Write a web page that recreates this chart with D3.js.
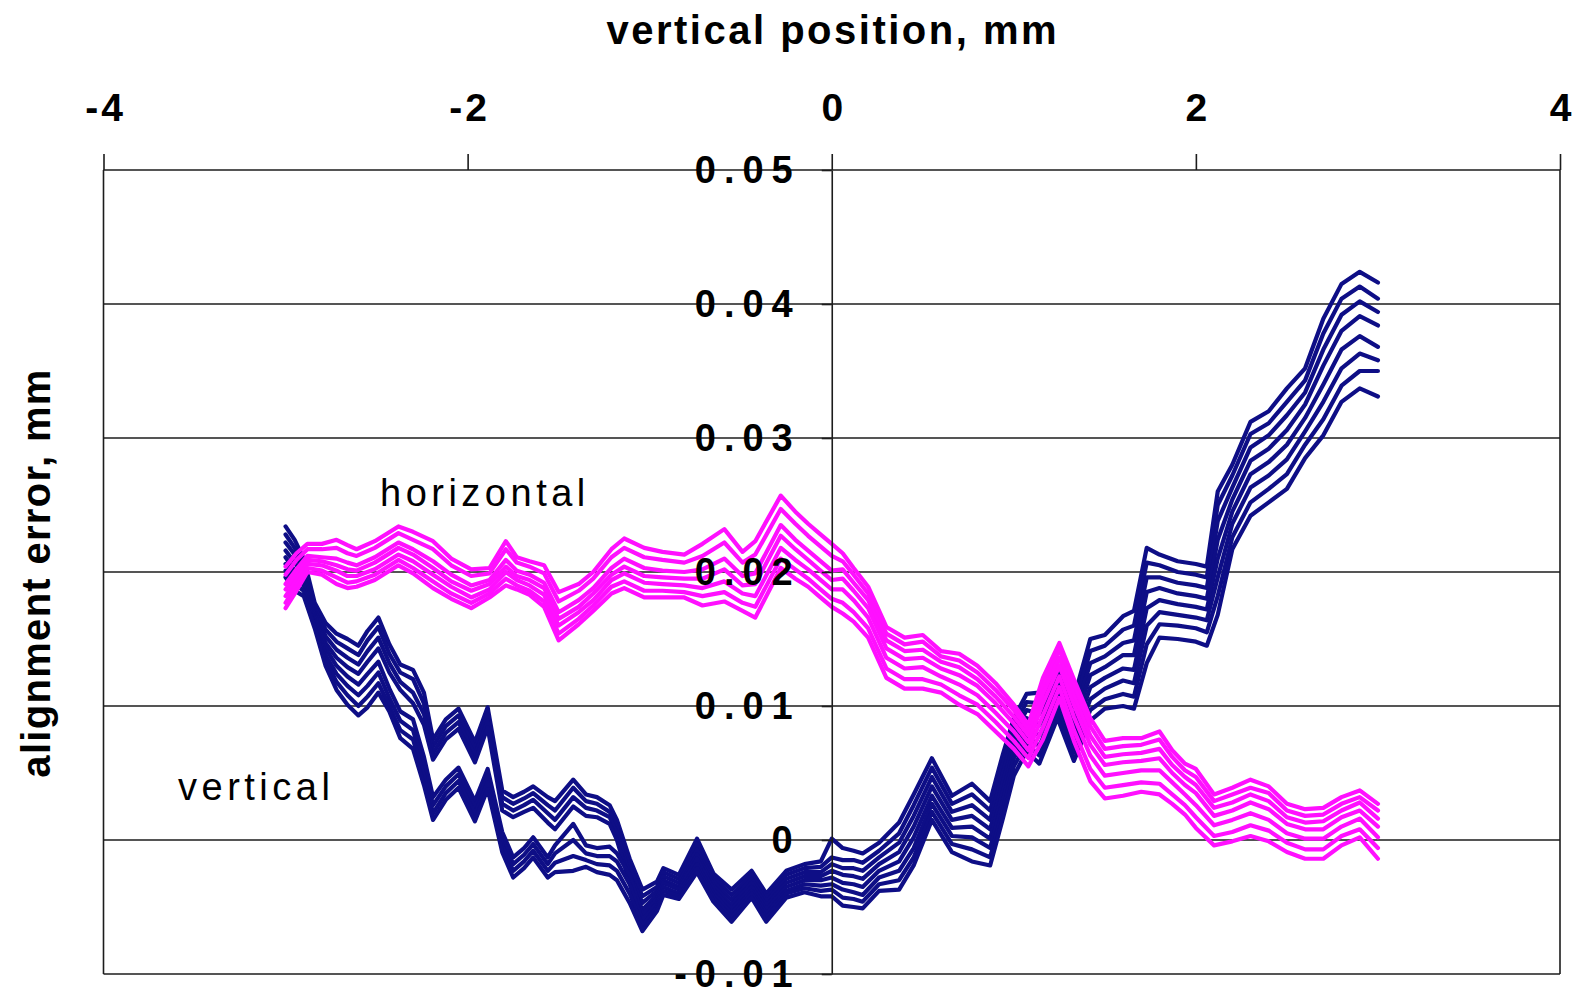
<!DOCTYPE html>
<html>
<head>
<meta charset="utf-8">
<script src="https://cdn.jsdelivr.net/npm/d3@7"></script>
<style>
  html, body { margin: 0; padding: 0; background: #fff; }
  svg { display: block; }
  text { font-family: "Liberation Sans", Arial, Helvetica, sans-serif; fill: #000; }
</style>
</head>
<body>
<svg id="chart" width="1575" height="994"></svg>
<script>
// Axis ticks and labels
const xTicks = [-4, -2, 0, 2, 4];
const xTickLabels = ["-4", "-2", "0", "2", "4"];
const yTicks = [-0.01, 0, 0.01, 0.02, 0.03, 0.04, 0.05];
const yTickLabels = ["-0.01", "0", "0.01", "0.02", "0.03", "0.04", "0.05"];

// Scan positions (mm) for the vertical-error runs
const verticalPos = [-3.00,-2.95,-2.90,-2.84,-2.78,-2.72,-2.66,-2.60,-2.55,-2.49,-2.43,-2.37,-2.30,-2.24,-2.19,-2.12,-2.05,-1.96,-1.89,-1.81,-1.75,-1.69,-1.64,-1.56,-1.52,-1.42,-1.35,-1.29,-1.22,-1.18,-1.11,-1.04,-0.96,-0.925,-0.84,-0.74,-0.65,-0.55,-0.44,-0.36,-0.25,-0.15,-0.06,0.00,0.06,0.12,0.17,0.26,0.37,0.45,0.55,0.66,0.77,0.87,0.94,1.00,1.07,1.14,1.24,1.33,1.42,1.50,1.60,1.66,1.73,1.80,1.90,2.00,2.06,2.12,2.20,2.30,2.40,2.50,2.60,2.70,2.80,2.90,3.00];

// Vertical alignment error, one array per run (micrometres)
const verticalRun1 = [23.4,22.4,21.0,17.7,16.2,15.4,15.0,14.5,15.6,16.6, 14.6,13.1,12.7,11.0,7.5,9.0,9.8,7.3,9.9,3.7, 3.2,3.6,4.0,3.2,2.9,4.5,3.4,3.2,2.6,1.5, -1.4,-3.7,-3.1,-2.1,-2.6,0.1,-2.5,-3.7,-2.3,-4.0, -2.3,-1.8,-1.6,0.1,-0.6,-0.8,-1.0,-0.2,1.3,3.4, 6.1,3.3,4.2,2.9,6.4,9.1,10.9,11.0,13.1,10.6, 15.0,15.3,16.7,17.1,21.8,21.3,20.8,20.6,20.4,26.0, 28.0,31.2,32.0,33.7,35.2,38.9,41.5,42.4,41.6];
const verticalRun2 = [22.8,21.8,20.6,17.4,15.7,14.8,14.3,13.8,14.9,15.9, 13.9,12.5,12.0,10.2,7.0,8.5,9.3,6.8,9.4,3.2, 2.7,3.1,3.5,2.6,2.2,3.9,2.9,2.7,2.1,1.0, -2.0,-4.2,-3.5,-2.4,-2.9,-0.3,-2.8,-4.1,-2.6,-4.3, -2.6,-2.1,-2.0,-1.3,-1.5,-1.5,-1.7,-0.8,0.5,2.6, 5.4,2.7,3.4,2.2,5.7,8.5,10.3,10.2,12.5,9.9, 14.1,14.5,15.7,16.0,20.7,20.5,20.0,19.8,19.6,25.0, 27.2,30.3,31.1,32.7,34.3,37.8,40.4,41.3,40.4];
const verticalRun3 = [22.2,21.3,20.2,17.1,15.2,14.2,13.6,13.1,14.1,15.1, 13.2,11.8,11.0,9.4,6.5,8.0,8.8,6.3,8.9,2.7, 2.2,2.6,3.0,2.0,1.5,3.2,2.4,2.2,1.7,0.5, -2.6,-4.7,-3.8,-2.7,-3.2,-0.7,-3.1,-4.5,-2.9,-4.6, -2.9,-2.4,-2.4,-1.8,-2.1,-2.1,-2.3,-1.3,-0.2,1.8, 4.7,2.1,2.6,1.5,5.0,7.9,9.7,9.4,11.9,9.2, 13.2,13.7,14.7,14.9,19.6,19.6,19.2,19.0,18.8,23.8, 26.3,29.3,30.2,31.7,33.4,36.6,39.2,40.2,39.4];
const verticalRun4 = [21.6,20.7,19.8,16.8,14.7,13.6,12.9,12.4,13.3,14.3, 12.5,11.2,10.2,8.6,6.0,7.5,8.3,5.8,8.4,2.2, 1.7,2.1,2.4,1.3,0.8,2.5,1.8,1.7,1.2,0.0, -3.2,-5.2,-4.1,-3.0,-3.5,-1.1,-3.4,-4.9,-3.2,-4.9, -3.2,-2.7,-2.7,-2.3,-2.6,-2.7,-2.9,-1.8,-0.9,1.0, 4.0,1.5,1.8,0.8,4.3,7.3,9.1,8.6,11.3,8.5, 12.3,12.9,13.8,13.8,18.5,18.8,18.4,18.2,18.0,22.4, 25.4,28.3,29.2,30.6,32.5,35.4,38.0,39.1,38.4];
const verticalRun5 = [21.1,20.1,19.4,16.6,14.3,13.0,12.2,11.6,12.4,13.3, 11.3,9.6,9.0,6.2,3.2,4.5,5.4,2.9,5.3,0.6, -1.3,-0.6,0.2,-1.3,-0.4,1.2,-0.4,-0.6,-0.5,-1.0, -2.6,-5.6,-4.4,-3.2,-3.7,-1.4,-3.7,-5.2,-3.5,-5.2, -3.5,-3.0,-3.0,-2.8,-3.2,-3.3,-3.5,-2.3,-1.6,0.2, 3.3,0.9,1.0,0.1,3.6,6.7,8.4,7.8,10.7,7.8, 11.4,12.1,12.8,12.7,17.3,17.9,17.6,17.4,17.2,21.0, 24.5,27.3,28.2,29.5,31.5,34.0,36.6,37.6,36.8];
const verticalRun6 = [20.6,19.6,19.0,16.3,13.8,12.4,11.5,10.8,11.5,12.5, 10.6,8.9,8.2,5.5,2.6,4.0,4.9,2.4,4.8,0.1, -1.8,-1.1,-0.3,-1.8,-1.0,0.0,-1.0,-1.2,-1.2,-1.6, -3.3,-6.0,-4.7,-3.5,-4.0,-1.8,-4.0,-5.5,-3.8,-5.5, -3.8,-3.3,-3.4,-3.3,-3.7,-3.9,-4.1,-2.8,-2.3,-0.6, 2.7,0.3,0.2,-0.6,2.9,6.1,7.8,7.0,10.1,7.1, 10.5,11.3,11.9,11.7,16.0,17.0,16.8,16.6,16.4,19.6, 23.6,26.3,27.2,28.4,30.5,32.7,35.2,36.3,35.8];
const verticalRun7 = [20.1,19.1,18.6,16.0,13.4,11.8,10.8,10.0,10.7,11.7, 10.0,8.2,7.5,4.8,2.0,3.5,4.4,1.9,4.3,-0.4, -2.3,-1.6,-0.8,-2.3,-1.7,-1.2,-1.5,-1.8,-1.9,-2.3, -4.0,-6.4,-5.0,-3.8,-4.2,-2.1,-4.3,-5.8,-4.0,-5.8, -4.0,-3.6,-3.8,-3.7,-4.3,-4.4,-4.6,-3.3,-3.0,-1.3, 2.1,-0.3,-0.7,-1.3,2.2,5.5,7.2,6.3,9.6,6.5, 9.7,10.5,10.9,10.7,14.6,16.1,16.0,15.8,15.5,18.2, 22.6,25.2,26.2,27.3,29.5,31.4,33.9,35.0,35.0];
const verticalRun8 = [19.6,18.6,18.2,15.8,13.0,11.2,10.1,9.3,9.9,11.0, 9.6,7.6,6.8,4.1,1.5,3.0,3.9,1.4,3.8,-0.9, -2.8,-2.1,-1.3,-2.8,-2.4,-2.3,-2.0,-2.4,-2.6,-3.0, -4.7,-6.8,-5.3,-4.1,-4.4,-2.4,-4.6,-6.1,-4.3,-6.1, -4.3,-3.9,-4.2,-4.2,-4.9,-5.0,-5.1,-3.8,-3.7,-1.9, 1.5,-0.9,-1.6,-1.9,1.6,4.8,6.6,5.7,9.1,5.9, 8.9,9.8,10.0,9.8,13.2,15.1,15.0,14.8,14.5,16.8, 21.7,24.2,25.2,26.2,28.5,30.2,32.7,33.7,33.1];

// Scan positions (mm) for the horizontal-error runs
const horizontalPos = [-3.00,-2.94,-2.88,-2.80,-2.72,-2.66,-2.61,-2.51,-2.38,-2.30,-2.19,-2.09,-1.98,-1.88,-1.79,-1.73,-1.66,-1.58,-1.50,-1.39,-1.31,-1.21,-1.14,-1.03,-0.93,-0.81,-0.71,-0.59,-0.49,-0.42,-0.28,-0.20,-0.13,-0.07,0.00,0.06,0.12,0.20,0.30,0.40,0.50,0.60,0.70,0.80,0.90,1.00,1.08,1.16,1.25,1.33,1.42,1.50,1.60,1.70,1.80,1.87,1.94,2.00,2.10,2.20,2.30,2.40,2.50,2.60,2.70,2.80,2.90,3.00];

// Horizontal alignment error, one array per run (micrometres)
const horizontalRun1 = [20.4,21.4,22.1,22.1,22.4,22.0,21.7,22.3,23.4,23.0, 22.3,21.0,20.2,20.3,22.3,21.1,20.8,20.5,18.5,19.1, 20.0,21.7,22.5,21.8,21.5,21.3,22.1,23.2,21.5,22.3, 25.7,24.5,23.6,22.9,22.1,21.4,20.3,18.9,15.9,15.1, 15.3,14.1,13.9,13.0,11.7,10.1,8.6,12.1,14.7,12.0, 9.1,7.4,7.6,7.6,8.1,6.7,5.7,5.3,3.4,3.9, 4.5,4.0,2.7,2.3,2.4,3.2,3.7,2.7];
const horizontalRun2 = [19.8,20.9,21.7,21.7,21.8,21.4,21.2,21.8,22.9,22.4, 21.7,20.5,19.7,19.9,21.7,20.7,20.4,19.9,17.8,18.6, 19.5,21.1,21.8,21.1,20.9,20.7,21.2,22.2,20.7,21.3, 24.7,23.6,22.7,22.0,21.2,20.8,19.8,18.4,15.4,14.6, 14.8,13.7,13.4,12.5,11.2,9.7,8.2,11.5,14.2,11.5, 8.5,6.8,7.0,7.1,7.5,6.2,5.2,4.7,2.9,3.4, 3.9,3.5,2.2,1.8,1.9,2.7,3.2,2.2];
const horizontalRun3 = [19.1,20.2,21.2,21.1,21.0,20.7,20.5,21.1,22.2,21.7, 20.8,19.8,19.0,19.4,20.9,20.1,19.8,19.2,17.0,17.9, 18.8,20.3,21.0,20.3,20.1,20.0,20.2,21.0,19.7,19.9, 23.5,22.4,21.6,20.9,20.1,20.2,19.2,17.9,14.9,14.1, 14.2,13.3,12.9,12.0,10.7,9.2,7.8,10.9,13.6,10.8, 7.8,6.2,6.4,6.5,6.8,5.6,4.7,4.1,2.4,2.8, 3.4,2.9,1.7,1.3,1.4,2.2,2.8,1.6];
const horizontalRun4 = [18.7,19.8,20.9,20.8,20.5,20.2,20.1,20.7,21.8,21.3, 20.3,19.3,18.6,19.1,20.4,19.7,19.4,18.8,16.5,17.4, 18.4,19.8,20.4,19.7,19.6,19.5,19.5,20.2,19.0,19.1, 22.7,21.7,20.9,20.2,19.4,19.5,18.6,17.3,14.3,13.5, 13.6,12.8,12.3,11.5,10.2,8.7,7.3,10.2,13.0,10.1, 7.1,5.6,5.8,5.9,6.1,5.0,4.1,3.5,1.8,2.2, 2.8,2.3,1.2,0.8,0.8,1.7,2.2,1.0];
const horizontalRun5 = [18.2,19.4,20.6,20.5,20.1,19.7,19.7,20.2,21.3,20.8, 19.8,18.9,18.1,18.7,20.0,19.4,19.0,18.3,16.0,17.0, 17.9,19.4,19.9,19.2,19.1,19.0,18.8,19.3,18.4,18.2, 21.8,20.9,20.2,19.5,18.7,18.7,17.9,16.6,13.6,12.8, 12.9,12.2,11.6,10.8,9.5,8.1,6.7,9.3,12.2,9.2, 6.3,4.8,5.0,5.2,5.2,4.3,3.4,2.6,1.1,1.5, 2.0,1.5,0.5,0.1,0.1,1.0,1.6,0.2];
const horizontalRun6 = [17.7,19.0,20.3,20.1,19.6,19.2,19.3,19.8,20.9,20.3, 19.3,18.4,17.7,18.4,19.5,19.0,18.6,17.8,15.4,16.5, 17.5,18.9,19.3,18.6,18.6,18.5,18.2,18.5,17.7,17.4, 21.0,20.2,19.5,18.8,18.0,17.7,17.0,15.8,12.8,12.0, 12.0,11.6,10.8,10.1,8.8,7.4,6.1,8.4,11.4,8.2, 5.3,3.9,4.1,4.3,4.2,3.4,2.6,1.7,0.3,0.6, 1.1,0.7,-0.2,-0.7,-0.7,0.3,0.8,-0.6];
const horizontalRun7 = [17.3,18.6,20.0,19.8,19.1,18.8,18.9,19.4,20.5,19.9, 18.8,18.0,17.3,18.1,19.0,18.7,18.3,17.4,14.9,16.1, 17.1,18.4,18.8,18.1,18.1,18.1,17.5,17.8,17.1,16.6, 20.3,19.5,18.9,18.2,17.4,16.9,16.3,15.1,12.1,11.3, 11.3,11.0,10.1,9.4,8.1,6.8,5.5,7.5,10.6,7.4, 4.4,3.1,3.3,3.6,3.4,2.7,1.9,0.9,-0.4,-0.1, 0.3,-0.1,-0.9,-1.4,-1.4,-0.4,0.2,-1.4];

const verticalRuns = [verticalRun1, verticalRun2, verticalRun3, verticalRun4,
                      verticalRun5, verticalRun6, verticalRun7, verticalRun8];
const horizontalRuns = [horizontalRun1, horizontalRun2, horizontalRun3, horizontalRun4,
                        horizontalRun5, horizontalRun6, horizontalRun7];

// ---------------------------------------------------------------------------
const svg = d3.select("#chart");
const plot = { left: 103.5, right: 1560, top: 170, bottom: 974 };

const x = d3.scaleLinear().domain([-4, 4]).range([plot.left, plot.right]);
const y = d3.scaleLinear().domain([-0.01, 0.05]).range([plot.bottom, plot.top]);

const ink = "#1c1c1c";

// horizontal gridlines (top and bottom double as the frame)
svg.append("g")
  .selectAll("line")
  .data(yTicks)
  .join("line")
  .attr("x1", plot.left).attr("x2", plot.right)
  .attr("y1", d => y(d)).attr("y2", d => y(d))
  .attr("stroke", ink).attr("stroke-width", 1.6);

// left and right frame edges
svg.append("g")
  .selectAll("line")
  .data([-4, 4])
  .join("line")
  .attr("x1", d => x(d)).attr("x2", d => x(d))
  .attr("y1", plot.top).attr("y2", plot.bottom)
  .attr("stroke", ink).attr("stroke-width", 1.6);

// data runs
const lineOf = pos => d3.line()
  .x((d, i) => x(pos[i]))
  .y(d => y(d / 1000));

svg.append("g")
  .selectAll("path")
  .data(verticalRuns)
  .join("path")
  .attr("d", run => lineOf(verticalPos)(run.slice(0, verticalPos.length)))
  .attr("fill", "none")
  .attr("stroke", "#0e0e86")
  .attr("stroke-width", 4.2)
  .attr("stroke-linejoin", "round")
  .attr("stroke-linecap", "round");

svg.append("g")
  .selectAll("path")
  .data(horizontalRuns)
  .join("path")
  .attr("d", run => lineOf(horizontalPos)(run.slice(0, horizontalPos.length)))
  .attr("fill", "none")
  .attr("stroke", "#ff10ff")
  .attr("stroke-width", 4.2)
  .attr("stroke-linejoin", "round")
  .attr("stroke-linecap", "round");

// top x axis
const xAxis = svg.append("g")
  .attr("transform", `translate(0,${plot.top})`)
  .call(d3.axisTop(x)
    .tickValues(xTicks)
    .tickFormat((d, i) => xTickLabels[i])
    .tickSize(16)
    .tickSizeOuter(0)
    .tickPadding(33));
xAxis.select(".domain").remove();
xAxis.selectAll(".tick line").attr("stroke", ink).attr("stroke-width", 1.6);
xAxis.selectAll(".tick text")
  .attr("font-family", '"Liberation Sans", Arial, sans-serif')
  .attr("font-size", 39)
  .attr("font-weight", "bold")
  .attr("letter-spacing", 3)
  .attr("dx", 1.5)
  .attr("fill", "#000");

// y axis through x = 0
const yAxis = svg.append("g")
  .attr("transform", `translate(${x(0)},0)`)
  .call(d3.axisLeft(y)
    .tickValues(yTicks)
    .tickFormat((d, i) => yTickLabels[i])
    .tickSize(10)
    .tickSizeOuter(0)
    .tickPadding(21));
yAxis.select(".domain").attr("stroke", ink).attr("stroke-width", 1.6);
yAxis.selectAll(".tick line").attr("stroke", ink).attr("stroke-width", 1.6);
yAxis.selectAll(".tick text")
  .attr("font-family", '"Liberation Sans", Arial, sans-serif')
  .attr("font-size", 38)
  .attr("font-weight", "bold")
  .attr("letter-spacing", 8)
  .attr("fill", "#000");

// axis titles
svg.append("text")
  .attr("x", x(0) + 1).attr("y", 44)
  .attr("text-anchor", "middle")
  .attr("font-size", 40).attr("font-weight", "bold")
  .attr("letter-spacing", 2.5)
  .text("vertical position, mm");

svg.append("text")
  .attr("transform", "translate(50,573) rotate(-90)")
  .attr("text-anchor", "middle")
  .attr("font-size", 40).attr("font-weight", "bold")
  .attr("letter-spacing", 1.3)
  .text("alignment error, mm");

// run labels
svg.append("text")
  .attr("x", 380).attr("y", 506)
  .attr("font-size", 38)
  .attr("letter-spacing", 4.5)
  .text("horizontal");

svg.append("text")
  .attr("x", 178).attr("y", 800)
  .attr("font-size", 38)
  .attr("letter-spacing", 4.5)
  .text("vertical");
</script>
</body>
</html>
